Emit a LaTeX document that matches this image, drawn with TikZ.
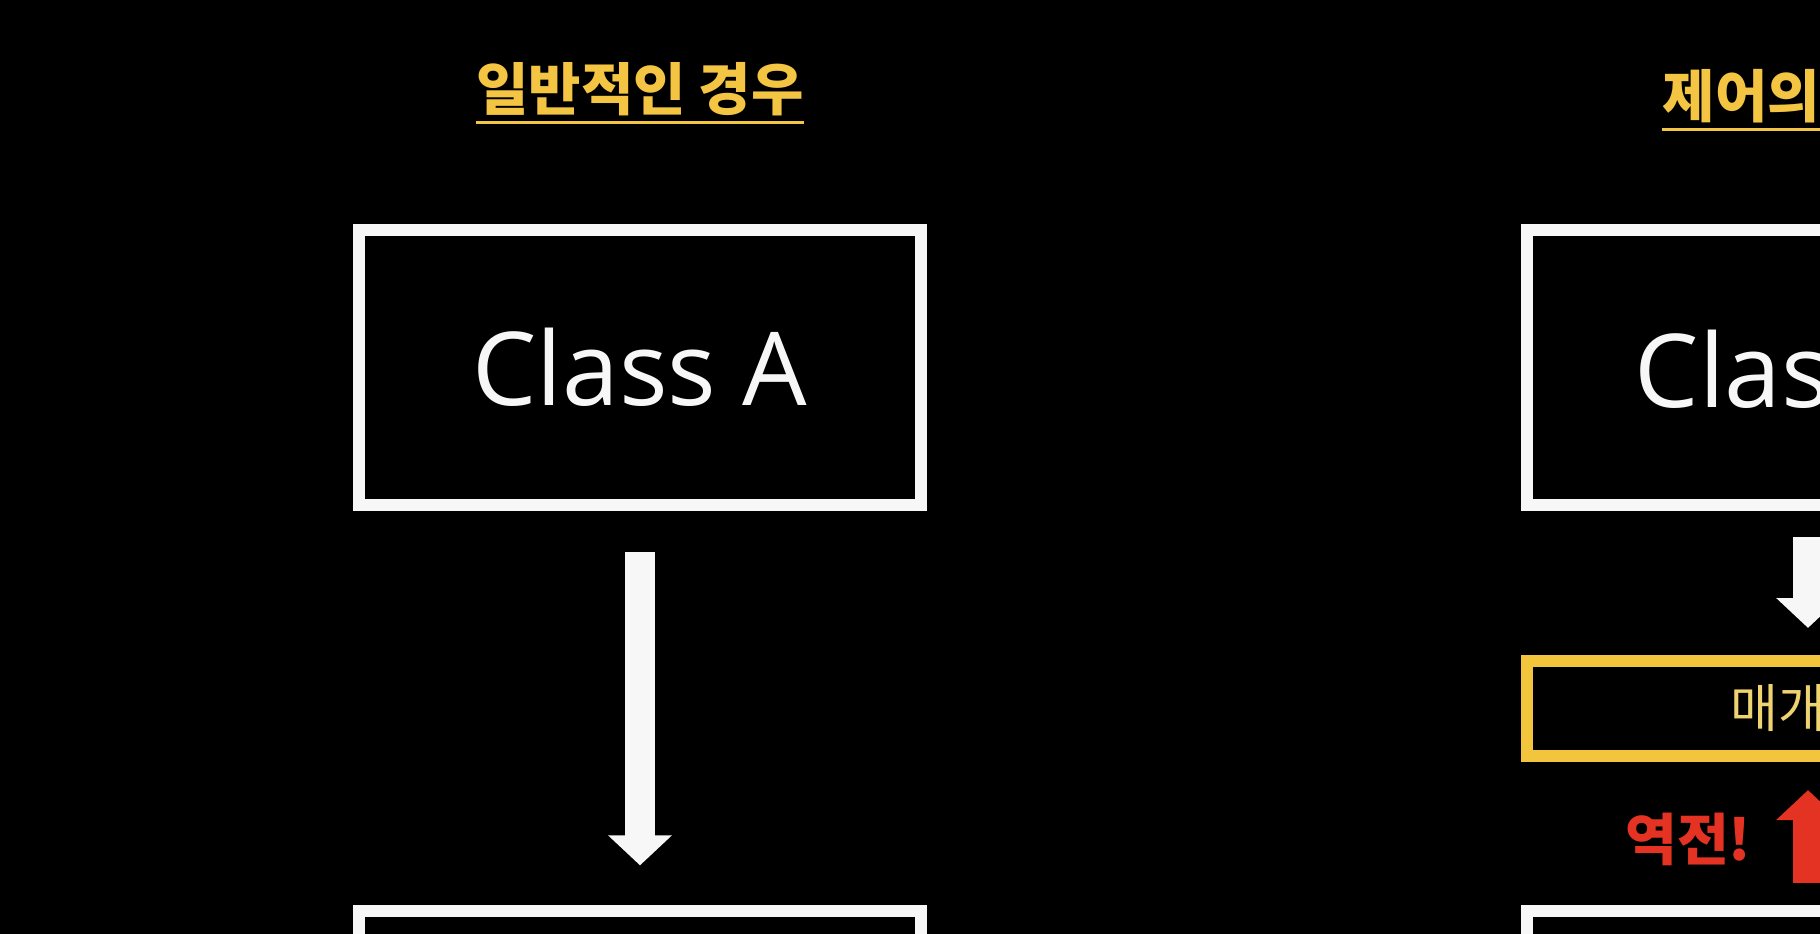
\documentclass[tikz,border=0pt]{standalone}
\usepackage{fontspec}
\setmainfont{Open Sans}
\newfontfamily\krfont{Noto Sans CJK KR}
\usetikzlibrary{arrows.meta,positioning}

\definecolor{titleyellow}{HTML}{F4C542}
\definecolor{boxyellow}{HTML}{F2C53D}
\definecolor{textyellow}{HTML}{EFD370}
\definecolor{boxwhite}{HTML}{F7F7F7}
\definecolor{alertred}{HTML}{E53323}

\begin{document}
\begin{tikzpicture}[x=0.01cm, y=-0.01cm,
  classbox/.style={draw=boxwhite, line width=3.4pt, minimum width=5.62cm,
    minimum height=2.75cm, inner sep=0pt, text=boxwhite,
    font=\fontsize{29}{29}\selectfont},
  midbox/.style={classbox, draw=boxyellow, minimum height=0.95cm},
  title/.style={font=\krfont\bfseries\fontsize{16.2}{17}\selectfont,
    text=titleyellow, inner sep=0pt, anchor=base},
  uline/.style={titleyellow, line width=0.9pt},
  blockarrow/.style={line width=8.5pt, -{Triangle[width=17.6pt,length=8.5pt]}},
]
% Canvas: one unit = one pixel of the 1820 x 934 frame
\fill[black] (0,0) rectangle (1820,934);
\useasboundingbox (0,0) rectangle (1820,934);
\clip (0,0) rectangle (1820,934);

% Column centres
\def\xL{640}   % general case
\def\xR{1808}  % inversion of control

% Titles
\node[title] (ttlL) at (\xL,111) {일반적인 경우};
\draw[uline] ([yshift=-3.2pt]ttlL.base west) -- ([yshift=-3.2pt]ttlL.base east);
\node[title, anchor=base west] (ttlR) at (1662,118) {제어의};
\draw[uline] ([yshift=-3.2pt]ttlR.base west) -- ++(250,0);

% Left column: Class A -> (next class)
\node[classbox] (clsA) at (\xL,367.5) {Class A};
\node[classbox] (clsB) at (\xL,1049) {};
\draw[blockarrow, boxwhite, shorten <=11.7pt, shorten >=11.4pt] (clsA) -- (clsB);

% Right column: class -> mediator <- class
\node[classbox] (clsAr) at (\xR,367.5) {};
\node[text=boxwhite, font=\fontsize{29}{29}\selectfont, inner sep=0pt,
  anchor=base west] (clsArTxt) at (1634,408) {Class};
\node[midbox] (mid) at (\xR,708.5) {};
\node[text=textyellow, font=\krfont\fontsize{14.8}{15}\selectfont, inner sep=0pt,
  anchor=base west] (midTxt) at (1730,728) {매개};
\node[classbox] (clsBr) at (\xR,1049) {};
\draw[blockarrow, boxwhite, shorten <=7.4pt, shorten >=7.7pt] (clsAr) -- (mid);
\draw[blockarrow, alertred, shorten <=6.3pt, shorten >=8pt] (clsBr) -- (mid);
\node[text=alertred, font=\krfont\bfseries\fontsize{16}{16}\selectfont,
  inner sep=0pt, anchor=east] (flip) at (1752,839) {역전!};
\end{tikzpicture}
\end{document}
